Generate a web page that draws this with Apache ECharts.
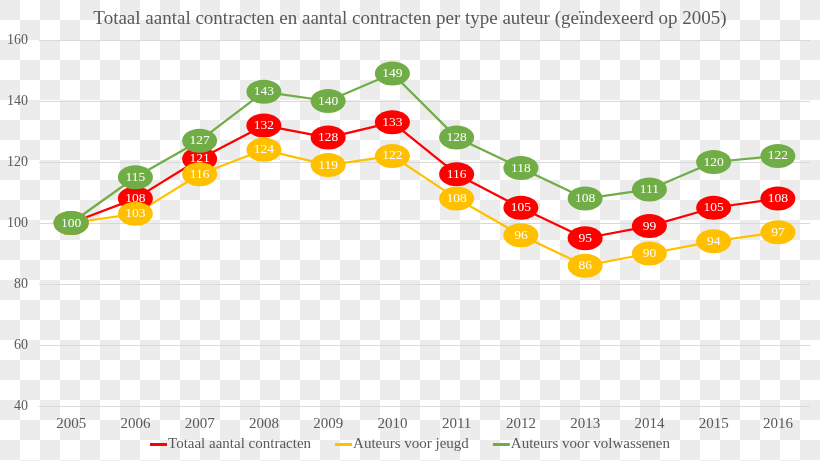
<!DOCTYPE html>
<html>
<head>
<meta charset="utf-8">
<script src="https://cdn.jsdelivr.net/npm/echarts@6/dist/echarts.min.js"></script>
<style>
  html, body { margin: 0; padding: 0; }
  body {
    width: 820px; height: 461px;
    background: repeating-conic-gradient(#fff 0 25%, #ececec 0 50%) 0 0 / 40px 40px;
  }
  #chart { width: 820px; height: 461px; }
</style>
</head>
<body>
<div id="chart"></div>
<script>
const titleText = 'Totaal aantal contracten en aantal contracten per type auteur (geïndexeerd op 2005)';
const years = ['2005','2006','2007','2008','2009','2010','2011','2012','2013','2014','2015','2016'];
const totaal = [100,108,121,132,128,133,116,105,95,99,105,108];
const jeugd = [100,103,116,124,119,122,108,96,86,90,94,97];
const volwassenen = [100,115,127,143,140,149,128,118,108,111,120,122];
const seriesNames = ['Totaal aantal contracten','Auteurs voor jeugd','Auteurs voor volwassenen'];
const seriesColors = ['#ff0000','#ffc000','#70ad47'];

const FONT = '"Liberation Serif", "DejaVu Serif", serif';

function mk(name, data, color, hideFirstLabel) {
  const d = data.map((v, i) => (hideFirstLabel && i === 0) ? { value: v, label: { show: false } } : v);
  return {
    name: name,
    type: 'line',
    data: d,
    symbol: 'circle',
    symbolSize: [35, 24],
    itemStyle: { color: color },
    lineStyle: { color: color, width: 2.25 },
    label: {
      show: true,
      position: 'inside',
      color: '#ffffff',
      fontFamily: FONT,
      fontSize: 13.5
    },
    emphasis: { disabled: true },
    animation: false
  };
}

const chart = echarts.init(document.getElementById('chart'), null, { renderer: 'canvas' });
chart.setOption({
  backgroundColor: 'transparent',
  title: {
    text: titleText,
    left: 'center',
    top: 5,
    textStyle: { fontFamily: FONT, fontSize: 19, fontWeight: 'normal', color: '#595959' }
  },
  legend: {
    data: seriesNames.map((n, i) => ({ name: n, icon: 'rect', itemStyle: { color: seriesColors[i] } })),
    bottom: 4,
    left: 'center',
    itemWidth: 17,
    itemHeight: 3,
    itemGap: 24,
    textStyle: { fontFamily: FONT, fontSize: 15, color: '#595959', padding: [0,0,0,-4] }
  },
  grid: { left: 39, right: 10, top: 40, bottom: 55, containLabel: false },
  xAxis: {
    type: 'category',
    data: years,
    boundaryGap: true,
    axisLine: { show: true, lineStyle: { color: '#d9d9d9' } },
    axisTick: { show: false },
    axisLabel: { fontFamily: FONT, fontSize: 15, color: '#595959', margin: 11 }
  },
  yAxis: {
    type: 'value',
    min: 40,
    max: 160,
    interval: 20,
    axisLine: { show: false },
    axisTick: { show: false },
    axisLabel: { fontFamily: FONT, fontSize: 14, color: '#595959', margin: 11 },
    splitLine: { lineStyle: { color: '#d9d9d9', width: 1 } }
  },
  series: [
    mk(seriesNames[0], totaal, seriesColors[0], true),
    mk(seriesNames[1], jeugd, seriesColors[1], true),
    mk(seriesNames[2], volwassenen, seriesColors[2], false)
  ]
});
</script>
</body>
</html>
